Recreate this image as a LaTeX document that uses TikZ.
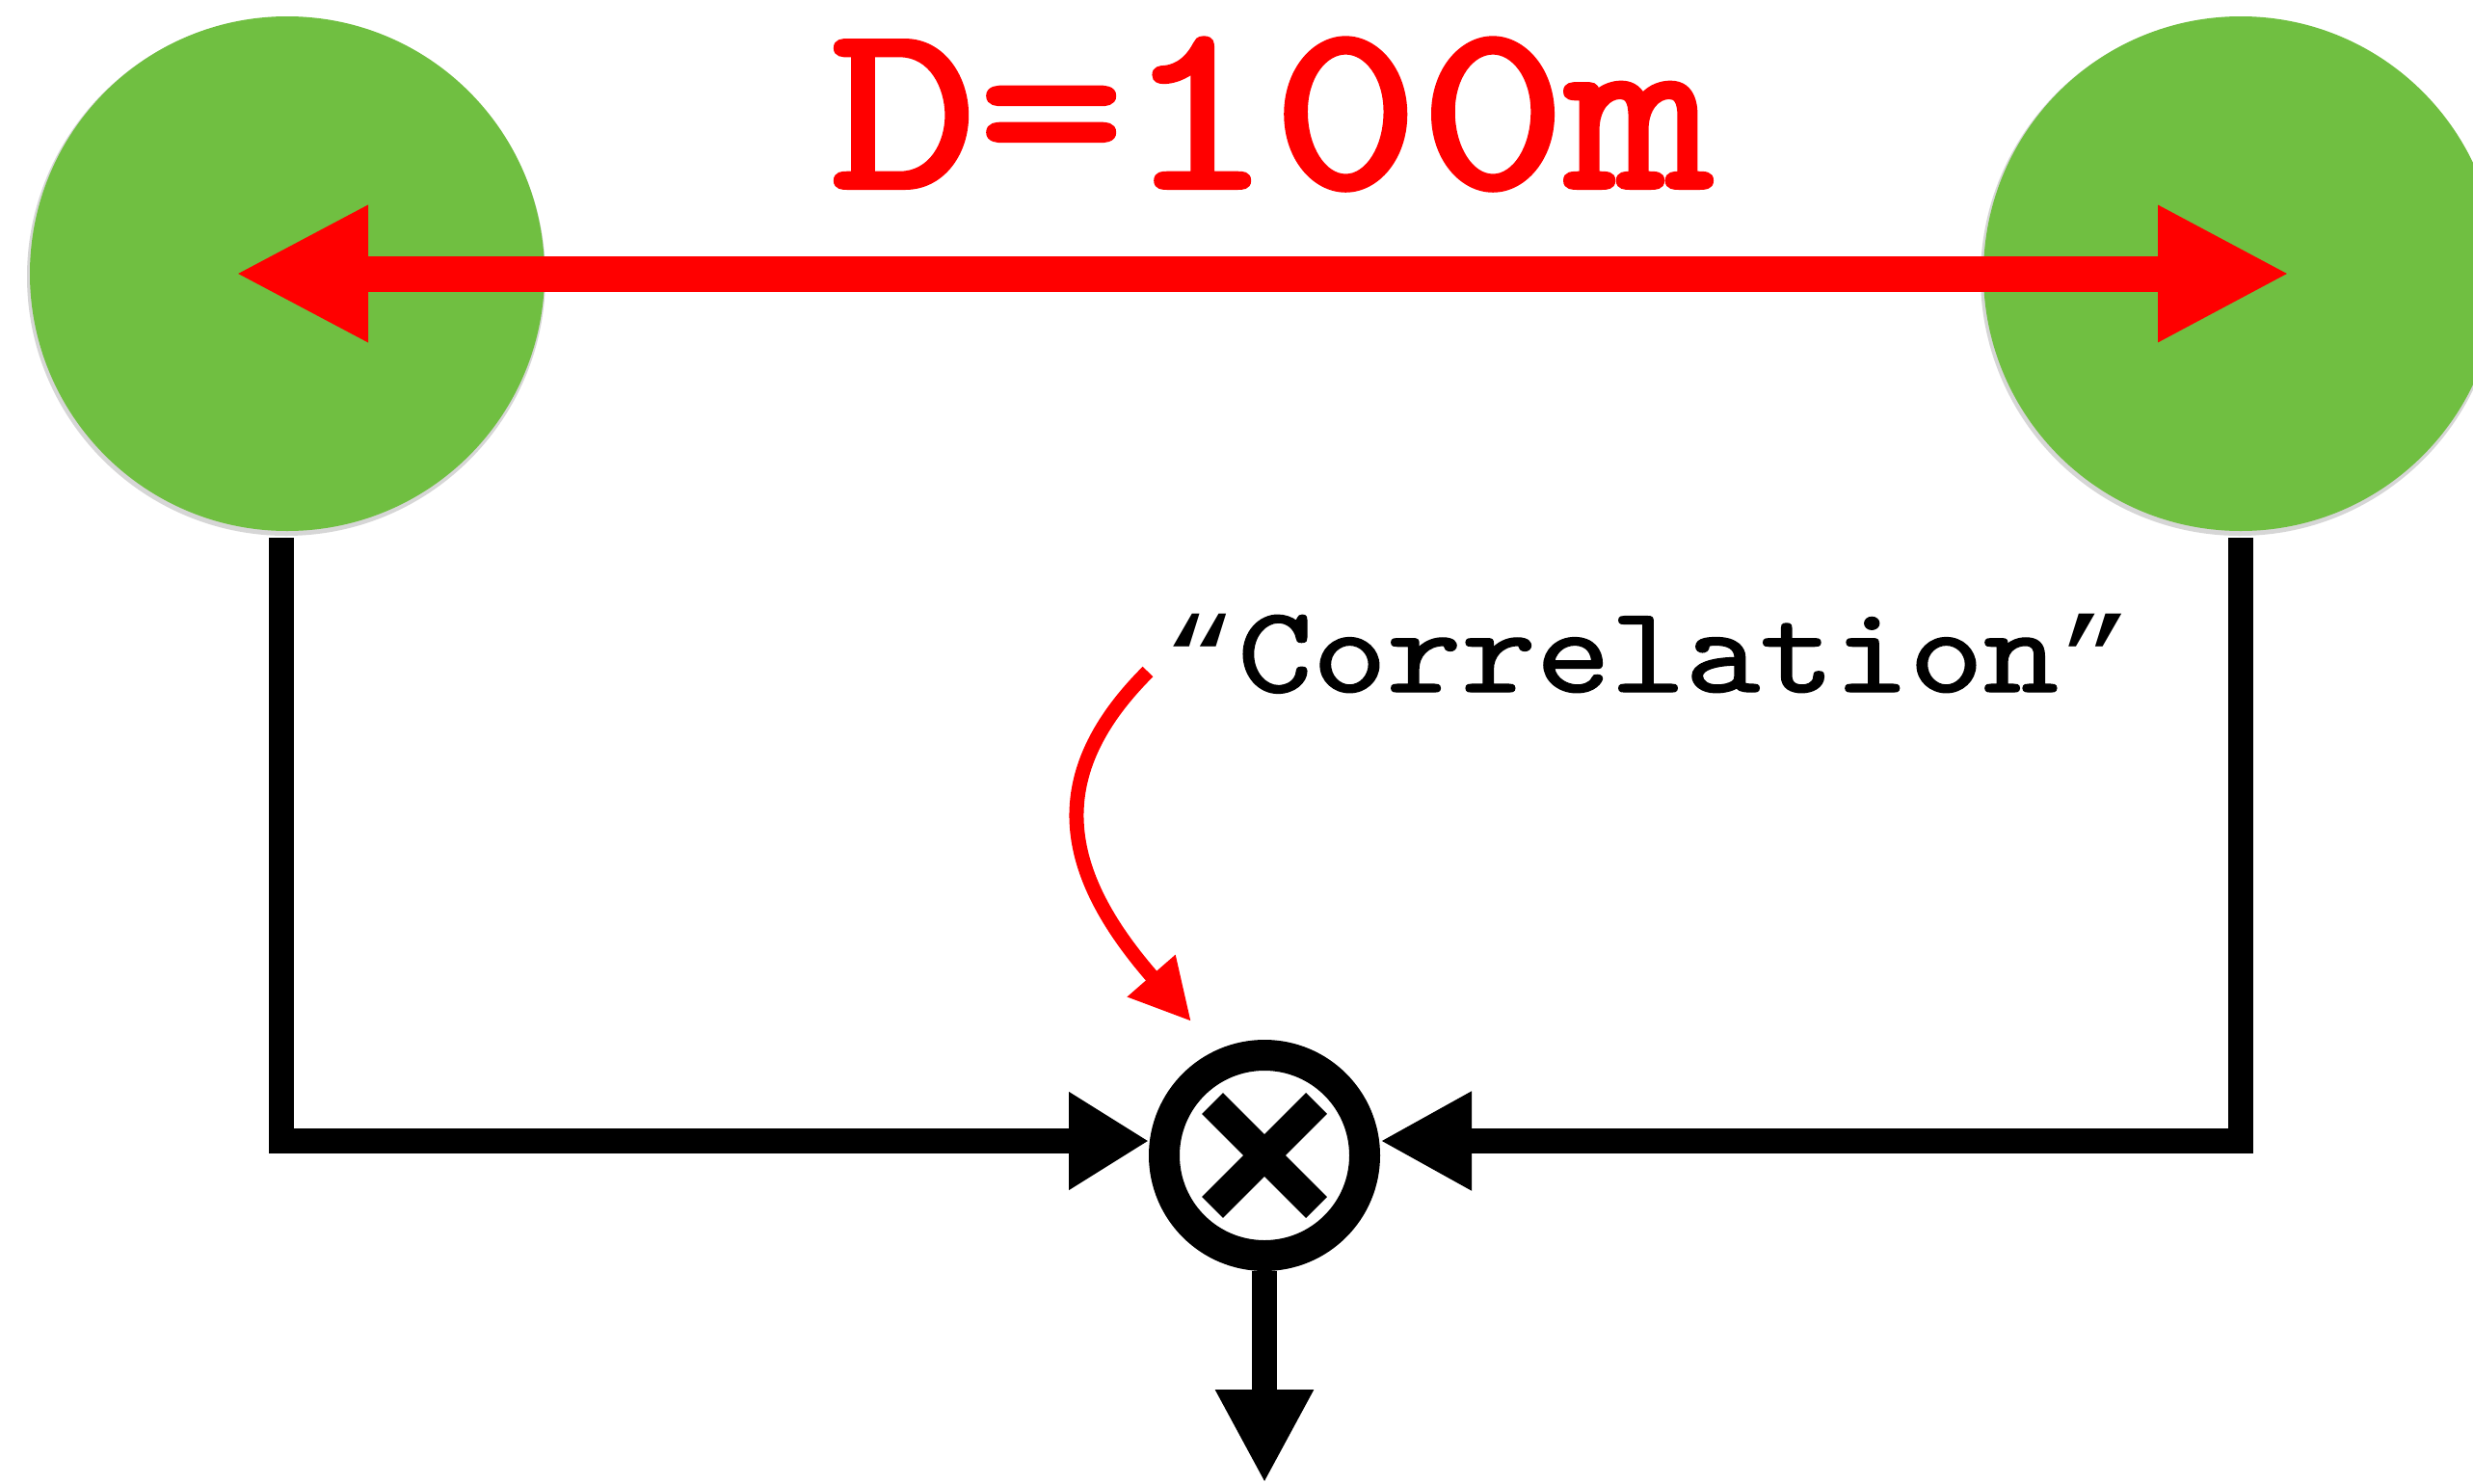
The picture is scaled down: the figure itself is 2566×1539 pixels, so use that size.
\documentclass[tikz,border=0pt]{standalone}
\usepackage{fontspec}
\usepackage{graphicx}
\newfontfamily\lmtt[FakeBold=1.6]{lmmono10-regular.otf}
\newfontfamily\lmttc[FakeBold=1.1]{lmmono10-regular.otf}
\newfontfamily\quotef{Liberation Mono}
\usetikzlibrary{arrows.meta,calc}
\definecolor{ballgreen}{RGB}{112,191,65}
\definecolor{arrred}{RGB}{255,0,0}
\begin{document}
\begin{tikzpicture}[x=1pt,y=-1pt,
  ball/.style={circle,fill=ballgreen,minimum size=534pt,inner sep=0pt},
  ballshadow/.style={circle,fill=black!35,minimum size=538pt,inner sep=0pt,opacity=0.45},
  redline/.style={draw=arrred,line width=37pt},
  blkline/.style={draw=black,line width=26pt,line join=miter},
  multnode/.style={circle,draw=black,line width=32pt,minimum size=208pt,inner sep=0pt},
  crossarm/.style={draw=black,line width=31pt},
  curvearrow/.style={draw=arrred,line width=15pt},
  disttext/.style={font=\lmtt\fontsize{291}{320}\selectfont,text=arrred,anchor=base,inner sep=0pt},
  corrtext/.style={font=\lmttc\fontsize{147.4}{170}\selectfont,text=black,anchor=base,inner sep=0pt}
]
\useasboundingbox (0,0) rectangle (2566,1539);
\clip (0,0) rectangle (2566,1539);
\fill[white] (0,0) rectangle (2566,1539);

% green circles
\node[ballshadow] (Ls) at (297,287) {};
\node[ball] (L) at (298,284) {};
\node[ballshadow] (Rs) at (2324,287) {};
\node[ball] (R) at (2325,284) {};

% distance arrow
\draw[redline,{Triangle[length=138pt,width=132pt]}-{Triangle[length=137pt,width=132pt]},
      shorten <=-54pt, shorten >=-51pt] (L.center) -- (R.center);
\node[disttext] (dist) at (1320,195) {\scalebox{1}[0.86]{D=100m}};

% multiplier
\node[multnode] (M) at (1312,1199) {};
\draw[crossarm] ($(M.center)+(-54,-54)$) -- ($(M.center)+(54,54)$);
\draw[crossarm] ($(M.center)+(54,-54)$) -- ($(M.center)+(-54,54)$);

% black connectors
\coordinate (lt) at (292,558);
\coordinate (lc) at (292,1184);
\coordinate (rt) at (2325,558);
\coordinate (rc) at (2325,1184);
\coordinate (out) at (1312,1539);
\draw[blkline,-{Triangle[length=83pt,width=96pt]}] (lt) -- (lc) -- (lc -| M.west);
\draw[blkline,-{Triangle[length=95pt,width=96pt]}] (rt) -- (rc) -- (rc -| M.east);
\draw[blkline,-{Triangle[length=97pt,width=95pt]}] (M.south) -- (out);

% correlation label and curved arrow
\node[corrtext] (corr) at (1710,718) {\scalebox{1}[0.87]{{\quotef\fontsize{129}{150}\selectfont “}Correlation{\quotef\fontsize{129}{150}\selectfont ”}}};
\coordinate (cs) at (1191,697);
\coordinate (ce) at (1236,1060);
\draw[curvearrow,-{Triangle[length=63pt,width=62pt]}] (cs) .. controls (1085,803) and (1098,902) .. (ce);
\end{tikzpicture}
\end{document}
